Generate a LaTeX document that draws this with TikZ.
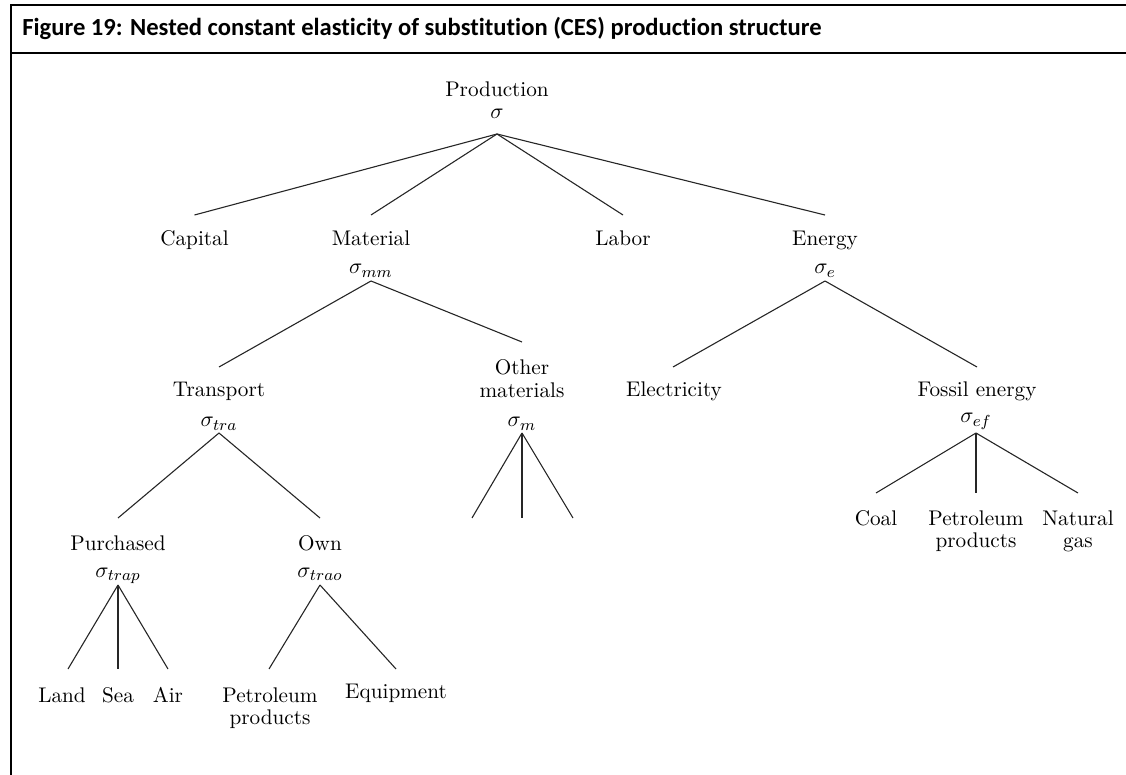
\documentclass[tikz,border=0pt]{standalone}
\usepackage{fontspec}
\newfontfamily\titlefont[Ligatures=NoCommon]{Carlito}
\DeclareMathSizes{10.6}{10.6}{8}{6}
\newcommand\twoline[2]{\begin{tabular}[t]{@{}c@{}}#1\\#2\end{tabular}}
\begin{document}
\begin{tikzpicture}[x=0.5pt,y=-0.5pt,
  lbl/.style={inner sep=0pt, anchor=base, font=\fontsize{10.6}{11.3}\selectfont},
  edge/.style={line width=0.55pt, draw=black!85},
  frame/.style={line width=1.1pt, draw=black}]
\useasboundingbox (0,0) rectangle (1126,775);
% frame
\coordinate (tl) at (11,5);
\coordinate (tr) at (1126,5);
\coordinate (bl) at (11,775);
\coordinate (sl) at (11,53);
\coordinate (sr) at (1126,53);
\draw[frame] (tr) -- (tl) -- (bl);
\draw[frame] (sl) -- (sr);
\node[anchor=base west, inner sep=0pt, font=\titlefont\bfseries\fontsize{12.3}{14}\selectfont] (title) at (22,35.5)
  {Figure 19: Nested constant elasticity of substitution (CES) production structure};
% nodes
\node[lbl] (prod) at (497,97) {Production};
\node[lbl] (sP) at (497,119) {$\sigma$};
\node[lbl] (cap) at (194.5,246) {Capital};
\node[lbl] (mat) at (371,246) {Material};
\node[lbl] (sMM) at (371,274) {$\sigma_{mm}$};
\node[lbl] (lab) at (623,246) {Labor};
\node[lbl] (ene) at (825,246) {Energy};
\node[lbl] (sE) at (825,274) {$\sigma_e$};
\node[lbl] (tra) at (219,397) {Transport};
\node[lbl] (sTra) at (219,427) {$\sigma_{tra}$};
\node[lbl] (oth) at (522,375) {\twoline{Other}{materials}};
\node[lbl] (sM) at (522,427) {$\sigma_m$};
\node[lbl] (ele) at (674,397) {Electricity};
\node[lbl] (fos) at (977,397) {Fossil energy};
\node[lbl] (sEF) at (976,423) {$\sigma_{ef}$};
\node[lbl] (coal) at (876,525) {Coal};
\node[lbl] (petA) at (976,525) {\twoline{Petroleum}{products}};
\node[lbl] (nat) at (1078,525) {\twoline{Natural}{gas}};
\node[lbl] (pur) at (118,551) {Purchased};
\node[lbl] (sTrap) at (118,577) {$\sigma_{trap}$};
\node[lbl] (own) at (320,551) {Own};
\node[lbl] (sTrao) at (320,577) {$\sigma_{trao}$};
\node[lbl] (land) at (62,702) {Land};
\node[lbl] (sea) at (118,702) {Sea};
\node[lbl] (air) at (168,702) {Air};
\node[lbl] (petB) at (270,702) {\twoline{Petroleum}{products}};
\node[lbl] (equ) at (396,698) {Equipment};
\coordinate (m1) at (472,518);
\coordinate (m2) at (522,518);
\coordinate (m3) at (573,518);
% connectors
\foreach \c in {cap,mat,lab,ene}
  \draw[edge] ([yshift=-7.5pt]sP.base) -- ([yshift=15.5pt]\c.base);
\draw[edge] ([yshift=-3.5pt]sMM.base) -- ([yshift=15pt]tra.base);
\draw[edge] ([yshift=-3.5pt]sMM.base) -- ([yshift=16.5pt]oth.base);
\draw[edge] ([yshift=-3.5pt]sE.base) -- ([xshift=-0.5pt,yshift=15pt]ele.base);
\draw[edge] ([yshift=-3.5pt]sE.base) -- ([yshift=15pt]fos.base);
\draw[edge] ([yshift=-3pt]sTra.base) -- ([yshift=16.5pt]pur.base);
\draw[edge] ([yshift=-3pt]sTra.base) -- ([yshift=16.5pt]own.base);
\foreach \c in {m1,m2,m3}
  \draw[edge] ([yshift=-3pt]sM.base) -- (\c);
\foreach \c in {coal,petA,nat}
  \draw[edge] ([yshift=-5pt]sEF.base) -- ([yshift=16pt]\c.base);
\draw[edge] ([yshift=-4pt]sTrap.base) -- ([xshift=3pt,yshift=16.5pt]land.base);
\draw[edge] ([yshift=-4pt]sTrap.base) -- ([yshift=16.5pt]sea.base);
\draw[edge] ([yshift=-4pt]sTrap.base) -- ([yshift=16.5pt]air.base);
\draw[edge] ([yshift=-4pt]sTrao.base) -- ([xshift=-0.5pt,yshift=16.5pt]petB.base);
\draw[edge] ([yshift=-4pt]sTrao.base) -- ([yshift=14.5pt]equ.base);
\end{tikzpicture}
\end{document}
